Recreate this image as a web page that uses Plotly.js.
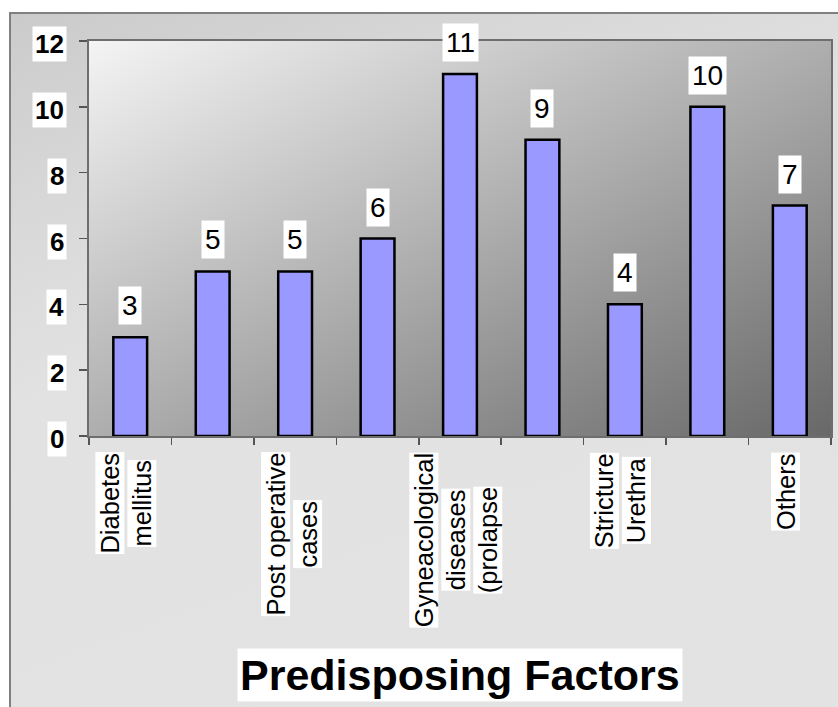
<!DOCTYPE html>
<html><head><meta charset="utf-8">
<script src="https://cdn.plot.ly/plotly-3.0.1.min.js"></script>
<style>
html,body{margin:0;padding:0;background:#fff;width:838px;height:707px;overflow:hidden;}
#wrap{position:absolute;left:9px;top:12px;width:827px;height:693px;border-left:2px solid #808080;border-top:2px solid #808080;
background:linear-gradient(160deg,#cbcbcb 0%,#d9d9d9 22%,#e2e2e2 40%,#e3e3e3 100%);}
#chart{width:827px;height:693px;}
</style></head><body><div id="wrap"><div id="chart"></div></div>
<script>
// ---- data ----
const categories = [
  "Diabetes\nmellitus", "", "Post operative\ncases", "",
  "Gyneacological\ndiseases\n(prolapse", "", "Stricture\nUrethra", "", "Others"
];
const values = [3, 5, 5, 6, 11, 9, 4, 10, 7];
const yTicks = [0, 2, 4, 6, 8, 10, 12];
const chartTitle = "Predisposing Factors";

// ---- styling ----
const FONT = '"Liberation Sans", Arial, sans-serif';
const CAT_SIZE = 25.5;
const idx = values.map((_, i) => i);
const boundaries = [];
for (let i = 0; i <= values.length; i++) boundaries.push(i - 0.5);

const ctx = document.createElement('canvas').getContext('2d');
ctx.font = CAT_SIZE + 'px "Liberation Sans"';

const annotations = [];
// category labels (one white box per line, lines centred)
categories.forEach((lab, i) => {
  if (!lab) return;
  const lines = lab.split('\n');
  const L = Math.max(...lines.map(s => ctx.measureText(s).width));
  lines.forEach((s, j) => {
    annotations.push({
      x: i, xref: 'x', y: 0, yref: 'y', xanchor: 'center', yanchor: 'middle',
      xshift: (j - (lines.length - 1) / 2) * 32 - 4, yshift: -(17 + L / 2),
      text: s, textangle: -90, showarrow: false, bgcolor: '#ffffff', borderpad: 0,
      font: {family: FONT, size: CAT_SIZE, color: '#000'}
    });
  });
});
// value labels
values.forEach((v, i) => {
  annotations.push({
    x: i, xref: 'x', y: v, yref: 'y', xanchor: 'center', yanchor: 'bottom', yshift: 12,
    text: String(v), showarrow: false, bgcolor: '#ffffff', borderpad: 3,
    font: {family: FONT, size: 28, color: '#000'}
  });
});
// y tick labels with white boxes
yTicks.forEach(v => {
  annotations.push({
    x: 0, xref: 'paper', xanchor: 'right', xshift: -22, y: v, yref: 'y', yanchor: 'middle', yshift: -3,
    text: '<b>' + v + '</b>', showarrow: false, bgcolor: '#ffffff', borderpad: 2,
    font: {family: FONT, size: 26, color: '#000'}
  });
});
// title at bottom
annotations.push({
  x: 0.5, xref: 'paper', y: 0, yref: 'paper', xanchor: 'center', yanchor: 'middle', yshift: -239,
  text: '<b>' + chartTitle + '</b>', showarrow: false, bgcolor: '#ffffff', borderpad: 2,
  font: {family: FONT, size: 43, color: '#000'}
});

const svg = '<svg xmlns="http://www.w3.org/2000/svg" width="100" height="100" viewBox="0 0 100 100" preserveAspectRatio="none">' +
  '<defs><linearGradient id="g" x1="0" y1="0" x2="1" y2="1">' +
  '<stop offset="0" stop-color="#f4f4f4"/><stop offset="1" stop-color="#686868"/></linearGradient></defs>' +
  '<rect width="100" height="100" fill="url(#g)"/></svg>';

const trace = {
  type: 'bar', x: idx, y: values, width: 0.41,
  marker: {color: '#9999ff', line: {color: '#000000', width: 2.5}},
  hoverinfo: 'none'
};

const layout = {
  width: 827, height: 693,
  margin: {l: 78, r: 7, t: 27, b: 271},
  paper_bgcolor: 'rgba(0,0,0,0)', plot_bgcolor: 'rgba(0,0,0,0)',
  showlegend: false,
  xaxis: {
    range: [-0.5, values.length - 0.5], tickmode: 'array', tickvals: boundaries, showticklabels: false,
    ticks: 'outside', ticklen: 7, tickwidth: 1.5, tickcolor: '#555',
    showline: true, linecolor: '#6e6e6e', linewidth: 2, mirror: true,
    showgrid: false, zeroline: false, fixedrange: true
  },
  yaxis: {
    range: [0, 12], tickmode: 'array', tickvals: yTicks, showticklabels: false,
    ticks: 'outside', ticklen: 8, tickwidth: 1.5, tickcolor: '#555',
    showline: true, linecolor: '#6e6e6e', linewidth: 2, mirror: true,
    showgrid: false, zeroline: false, fixedrange: true
  },
  images: [{
    source: 'data:image/svg+xml;charset=utf-8,' + encodeURIComponent(svg),
    xref: 'paper', yref: 'paper', x: 0, y: 1, sizex: 1, sizey: 1,
    xanchor: 'left', yanchor: 'top', sizing: 'stretch', layer: 'below'
  }],
  annotations: annotations
};

Plotly.newPlot('chart', [trace], layout, {staticPlot: true, displayModeBar: false});
</script>
</body></html>
